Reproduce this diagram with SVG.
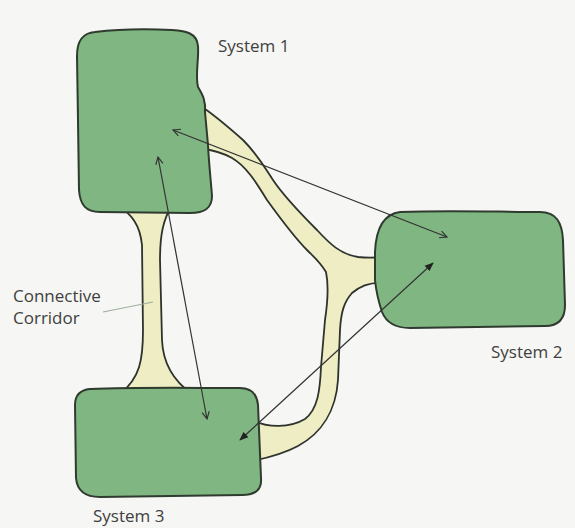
<svg xmlns="http://www.w3.org/2000/svg" width="575" height="528" viewBox="0 0 575 528">
<style>
.bg{fill:#f6f6f4}
.sys{fill:#80b682;stroke:#2e3b2e;stroke-width:2;stroke-linejoin:round}
.cor{fill:#eeedc4;stroke:#2f332c;stroke-width:1.8;stroke-linejoin:round}
.lbl{font-family:"Open Sans","Noto Sans",sans-serif;font-size:17px;fill:#404040}
.arr{stroke:#333;stroke-width:1.2;fill:none}
.lead{stroke:#9fae9f;stroke-width:1.2;fill:none}
</style>
<defs>
<marker id="openHead" viewBox="0 0 10 10" refX="9" refY="5" markerWidth="9" markerHeight="9" markerUnits="userSpaceOnUse" orient="auto-start-reverse">
<path d="M1,1 L9,5 L1,9" fill="none" stroke="#333" stroke-width="1.3"/>
</marker>
<marker id="fillHead" viewBox="0 0 10 10" refX="9" refY="5" markerWidth="9" markerHeight="9" markerUnits="userSpaceOnUse" orient="auto-start-reverse">
<path d="M0,1 L10,5 L0,9 Z" fill="#222"/>
</marker>
</defs>
<rect class="bg" x="0" y="0" width="575" height="528"/>

<g id="corridors">
<path id="corridor-vertical" class="cor" d="M118,205 C132,215 140,225 142,245 L143,330 C143,360 140,378 120,394 L192,394 C175,382 163,365 162,340 L160,260 C160,235 163,220 172,205 Z"/>
<path id="corridor-east" class="cor" d="M198,104 C210,112 225,124 243,140 C258,155 265,168 273,180 C283,195 300,213 317,230 C330,244 340,254 358,257 C366,258 374,258 384,257 L384,283 C372,282 360,286 352,293 C344,302 341,312 340,330 L338,380 C336,410 322,433 298,446 C285,453 272,457 252,461 L252,420 C268,428 290,428 305,419 C318,409 320,390 321,367 L325,320 C328,300 329,286 326,272 C320,262 315,258 307,250 C295,238 280,218 267,200 C256,182 246,166 232,158 C222,152 212,150 200,148 Z"/>
</g>

<g id="system1">
<path class="sys" d="M95,32 C120,29 150,29 172,30 C186,31 197,33 198,46 C199,60 195,75 198,87 C202,94 206,100 205,112 L208,145 C209,165 211,182 212,196 C212,208 205,213 190,213 L100,212 C86,212 80,205 79,190 C78,150 78,100 77,56 C77,40 83,33 95,32 Z"/>
<text class="lbl" x="218" y="52">System 1</text>
</g>

<g id="system2">
<path class="sys" d="M400,212 C450,210 500,212 540,212 C556,212 562,222 563,240 L565,305 C565,320 558,326 545,326 L410,328 C395,328 386,322 382,312 C378,300 376,290 375,280 L375,252 C376,228 384,214 400,212 Z"/>
<text class="lbl" x="491" y="358">System 2</text>
</g>

<g id="system3">
<path class="sys" d="M90,389 C140,387 190,388 240,388 C252,388 257,394 258,405 L261,478 C262,490 255,495 242,495 L100,497 C85,497 77,490 76,478 L75,405 C75,395 80,390 90,389 Z"/>
<text class="lbl" x="93" y="522">System 3</text>
</g>

<g id="corridor-label">
<text class="lbl" x="13" y="302">Connective</text>
<text class="lbl" x="13" y="324">Corridor</text>
<path class="lead" d="M103,312 L153,302"/>
</g>

<g id="connectors">
<path class="arr" d="M173,130 L447,237" marker-start="url(#openHead)" marker-end="url(#openHead)"/>
<path class="arr" d="M158,157 L207,419" marker-start="url(#openHead)" marker-end="url(#openHead)"/>
<path class="arr" d="M240,440 L433,263" marker-start="url(#fillHead)" marker-end="url(#fillHead)"/>
</g>
</svg>
